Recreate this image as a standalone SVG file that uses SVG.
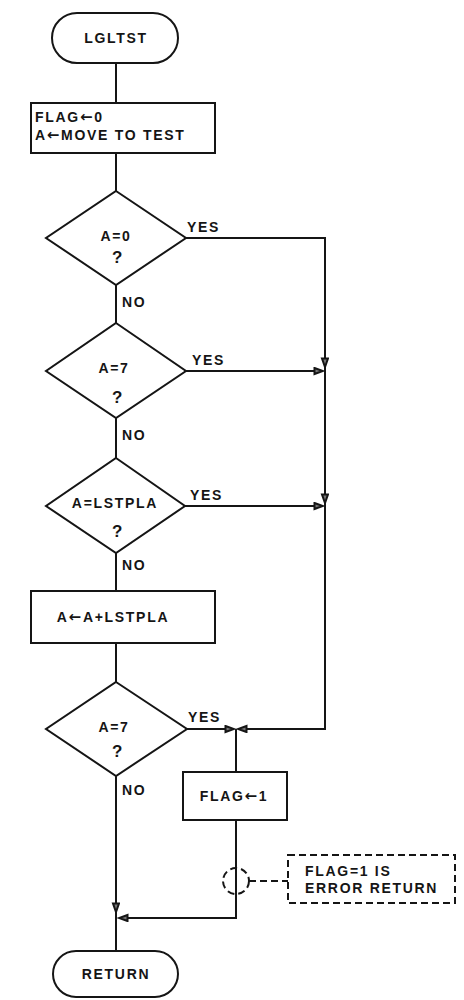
<svg xmlns="http://www.w3.org/2000/svg" width="464" height="1000" viewBox="0 0 464 1000">
<style>
.s{fill:none;stroke:#151515;stroke-width:2}
.n{fill:#fff;stroke:#151515;stroke-width:2}
.d{fill:none;stroke:#151515;stroke-width:2;stroke-dasharray:7 4}
text{font-family:"Liberation Sans",Arial,sans-serif;font-weight:bold;font-size:14px;fill:#151515;letter-spacing:1.7px}
.m{text-anchor:middle}
.q{font-size:17px}
.ar{font-family:"DejaVu Sans",sans-serif;font-size:15px;font-weight:bold}
</style>
<defs>
<marker id="ah" markerUnits="userSpaceOnUse" markerWidth="12" markerHeight="10" refX="10" refY="4" orient="auto">
<path d="M1.5,1 L10,4 L1.5,7 z" fill="#777" stroke="#151515" stroke-width="2" stroke-linejoin="miter"/>
</marker>
</defs>
<rect width="464" height="1000" fill="#fff"/>
<g id="connectors">
<path class="s" d="M116 63 V103"/>
<path class="s" d="M116 153 V191"/>
<path class="s" d="M116 285 V323"/>
<path class="s" d="M116 418 V458"/>
<path class="s" d="M116 553 V591"/>
<path class="s" d="M116 643 V682"/>
<path class="s" d="M116 776 V912" marker-end="url(#ah)"/>
<path class="s" d="M116 910 V951"/>
<path class="s" d="M186 238 H325 V367" marker-end="url(#ah)"/>
<path class="s" d="M186 371 H323" marker-end="url(#ah)"/>
<path class="s" d="M325 365 V503" marker-end="url(#ah)"/>
<path class="s" d="M185 506 H323" marker-end="url(#ah)"/>
<path class="s" d="M325 500 V729 H238" marker-end="url(#ah)"/>
<path class="s" d="M187 729 H234" marker-end="url(#ah)"/>
<path class="s" d="M236 729 V772"/>
<path class="s" d="M236 820 V918 H119" marker-end="url(#ah)"/>
<circle class="d" cx="236" cy="881" r="13" stroke-dasharray="6 4"/>
<path class="d" d="M249 881 H288"/>
</g>
<g id="start">
<rect class="n" x="52" y="13" width="126" height="50" rx="25"/>
<text class="m" x="116" y="43">LGLTST</text>
</g>
<g id="init">
<rect class="n" x="31" y="103" width="184" height="50"/>
<text x="35" y="122">FLAG<tspan class="ar">←</tspan>0</text>
<text x="35" y="140">A<tspan class="ar">←</tspan>MOVE TO TEST</text>
</g>
<g id="test0">
<path class="n" d="M116 191 L186 238 L116 285 L46 238 Z"/>
<text class="m" x="116" y="241">A=0</text>
<text class="m q" x="118" y="263">?</text>
<text x="187" y="232">YES</text>
<text x="122" y="307">NO</text>
</g>
<g id="test7">
<path class="n" d="M116 323 L186 371 L116 418 L46 371 Z"/>
<text class="m" x="114" y="373">A=7</text>
<text class="m q" x="118" y="403">?</text>
<text x="192" y="365">YES</text>
<text x="122" y="440">NO</text>
</g>
<g id="testlst">
<path class="n" d="M116 458 L185 506 L116 553 L46 506 Z"/>
<text class="m" x="115" y="508">A=LSTPLA</text>
<text class="m q" x="118" y="537">?</text>
<text x="190" y="500">YES</text>
<text x="122" y="570">NO</text>
</g>
<g id="add">
<rect class="n" x="31" y="591" width="184" height="52"/>
<text class="m" x="113" y="622">A<tspan class="ar">←</tspan>A+LSTPLA</text>
</g>
<g id="test7b">
<path class="n" d="M116 682 L187 729 L116 776 L46 729 Z"/>
<text class="m" x="114" y="732">A=7</text>
<text class="m q" x="118" y="757">?</text>
<text x="188" y="722">YES</text>
<text x="122" y="795">NO</text>
</g>
<g id="flag1">
<rect class="n" x="183" y="772" width="104" height="48"/>
<text class="m" x="234" y="801">FLAG<tspan class="ar">←</tspan>1</text>
</g>
<g id="note">
<rect class="d" x="288" y="855" width="167" height="48"/>
<text x="305" y="876">FLAG=1 IS</text>
<text x="305" y="893">ERROR RETURN</text>
</g>
<g id="end">
<rect class="n" x="53" y="951" width="125" height="46" rx="23"/>
<text class="m" x="116" y="979">RETURN</text>
</g>
</svg>
